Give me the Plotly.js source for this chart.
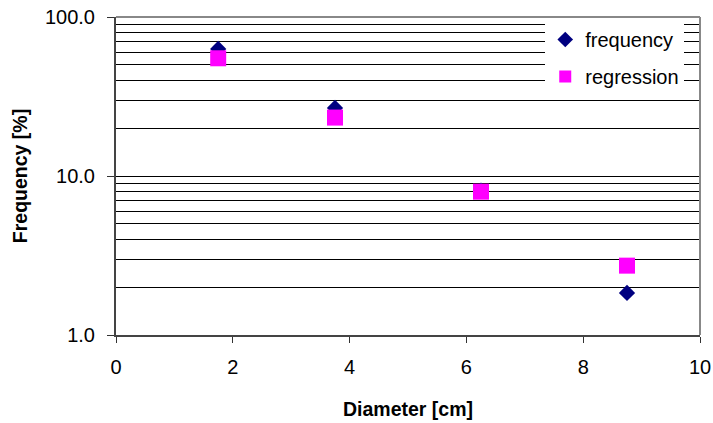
<!DOCTYPE html>
<html>
<head>
<meta charset="utf-8">
<script src="https://cdn.plot.ly/plotly-3.0.1.min.js"></script>
<style>html,body{margin:0;padding:0;background:#fff;}</style>
</head>
<body>
<div id="chart" style="width:713px;height:423px;"></div>
<script>
var diameter = [1.75, 3.75, 6.25, 8.75];
var frequency = [63, 26.8, 8.1, 1.84];
var regression = [55, 23.3, 7.97, 2.73];
var xTickVals = [0, 2, 4, 6, 8, 10];
var yTickVals = [1, 10, 100];
var yTickText = ['1.0', '10.0', '100.0'];
var yMinorVals = [2,3,4,5,6,7,8,9,20,30,40,50,60,70,80,90];

var FONT = 'Liberation Sans, Arial, sans-serif';

var traces = [
  {x: diameter, y: frequency, name: 'frequency', type: 'scatter', mode: 'markers',
   legendgroup: 'a',
   marker: {symbol: 'diamond', size: 12.5, color: '#000080', line: {width: 0}}},
  {x: diameter, y: regression, name: 'regression', type: 'scatter', mode: 'markers',
   legendgroup: 'b',
   marker: {symbol: 'square', size: 16, color: '#FF00FF', line: {width: 0}}}
];

var layout = {
  width: 713, height: 423,
  margin: {l: 116, r: 13, t: 17, b: 88},
  paper_bgcolor: '#fff', plot_bgcolor: '#fff',
  font: {family: FONT, size: 20, color: '#000'},
  showlegend: true,
  legend: {x: 0.735, xanchor: 'left', y: 0.9906, yanchor: 'top',
    bgcolor: '#fff', borderwidth: 0, font: {size: 20, family: FONT},
    traceorder: 'grouped', tracegroupgap: 8, itemsizing: 'constant'},
  xaxis: {range: [0, 10], tickvals: xTickVals, ticks: 'outside', ticklen: 6,
    tickcolor: '#333', tickwidth: 1, showgrid: false, zeroline: false,
    showline: true, linecolor: '#444', linewidth: 2, mirror: false,
    ticklabelstandoff: 7,
    title: {text: '<b>Diameter [cm]</b>', font: {size: 19.5, family: FONT}, standoff: 25}},
  yaxis: {type: 'log', range: [0, 2], tickvals: yTickVals, ticktext: yTickText,
    ticks: 'outside', ticklen: 7, tickcolor: '#333', tickwidth: 1,
    showgrid: true, gridcolor: '#000', gridwidth: 1, zeroline: false,
    showline: true, linecolor: '#444', linewidth: 2,
    ticklabelstandoff: 8,
    minor: {tickvals: yMinorVals, showgrid: true, gridcolor: '#000', gridwidth: 1, ticks: ''},
    title: {text: '<b>Frequency [%]</b>', font: {size: 19.5, family: FONT}, standoff: 12}},
  shapes: [
    {type: 'line', xref: 'paper', yref: 'paper', x0: 1, x1: 1, y0: 0, y1: 1,
     line: {color: '#888', width: 2}},
    {type: 'line', xref: 'paper', yref: 'paper', x0: 0, x1: 1, y0: 1, y1: 1,
     line: {color: '#888', width: 2}}
  ]
};

Plotly.newPlot('chart', traces, layout, {displayModeBar: false, staticPlot: true});
</script>
</body>
</html>
